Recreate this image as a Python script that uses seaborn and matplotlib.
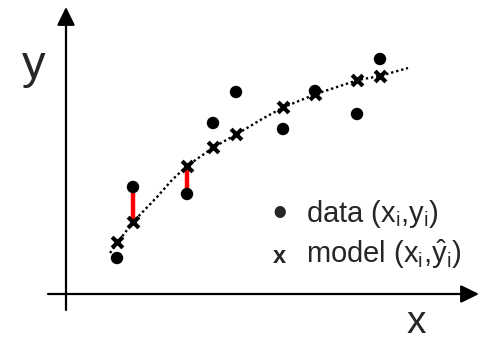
import matplotlib
matplotlib.use("Agg")
import matplotlib.pyplot as plt
import seaborn as sns
import pandas as pd

sns.set_style("white")
plt.rcParams['font.family'] = ['Liberation Sans', 'DejaVu Sans']
plt.rcParams['mathtext.fontset'] = 'custom'
plt.rcParams['mathtext.rm'] = 'Liberation Sans'
plt.rcParams['mathtext.it'] = 'Liberation Sans'
plt.rcParams['mathtext.default'] = 'regular'

# data points (x_i, y_i)
data_x = [5.1, 6.7, 12.1, 14.7, 17.0, 21.7, 24.9, 29.1, 31.4]
data_y = [3.6, 10.7, 10.0, 17.1, 20.2, 16.5, 20.3, 18.0, 23.5]
# model values (x_i, yhat_i)
model_y = [5.2, 7.2, 12.8, 14.7, 16.0, 18.7, 20.0, 21.4, 21.8]
# model curve
curve_x = [4.4, 5.2, 6.7, 9.1, 10.6, 12.1, 14.8, 17.1, 19.6, 21.8, 25.0, 27.1, 29.2, 31.4, 32.8, 34.2]
curve_y = [4.1, 5.2, 7.2, 9.7, 11.4, 12.8, 14.7, 16.0, 17.5, 18.7, 20.0, 20.7, 21.4, 21.8, 22.2, 22.6]
# residuals highlighted in red (indices)
resid_idx = [1, 2]

df = pd.DataFrame({"x": data_x, "y": data_y, "yhat": model_y})
cdf = pd.DataFrame({"x": curve_x, "y": curve_y})

fig = plt.figure(figsize=(4.8, 3.4), dpi=100)
ax = fig.add_axes([0, 0, 1, 1])
ax.set_xlim(-6.6, 41.4)
ax.set_ylim(-4.6, 29.4)
ax.axis('off')

# axes with arrows
arrow = dict(arrowstyle='-|>,head_length=0.55,head_width=0.27', lw=1.6,
             color='black', mutation_scale=20, shrinkA=0, shrinkB=0)
ax.annotate('', xy=(0, 28.7), xytext=(0, -1.6), arrowprops=arrow)
ax.annotate('', xy=(41.3, 0), xytext=(-1.8, 0), arrowprops=arrow)

# model curve
sns.lineplot(data=cdf, x="x", y="y", ax=ax, sort=False, color='black',
             linestyle=(0, (1, 1.2)), linewidth=1.7, zorder=2)

# red residual lines
sel = df.iloc[resid_idx]
ax.vlines(sel["x"], sel["y"], sel["yhat"], color='#ff0000', linewidth=3.2, zorder=3)

# data dots
sns.scatterplot(data=df, x="x", y="y", ax=ax, color='black', s=80,
                edgecolor='none', zorder=4)
# model crosses
sns.scatterplot(data=df, x="x", y="yhat", ax=ax, color='black', marker='x',
                s=60, linewidth=3.0, zorder=5)

# axis labels
fig.text(33.5 / 480, 1 - 78 / 340, 'y', fontsize=34, ha='center', va='baseline')
fig.text(416 / 480, 1 - 333 / 340, 'x', fontsize=28, ha='center', va='baseline')

# legend as text
fig.text(280 / 480, 1 - 215 / 340, '\u2022', fontsize=30, ha='center', va='center')
fig.text(306 / 480, 1 - 222 / 340, 'data (x$_i$,y$_i$)', fontsize=21, ha='left', va='baseline')
fig.text(279 / 480, 1 - 263 / 340, 'x', fontsize=17, fontweight='bold', ha='center', va='baseline')
fig.text(306 / 480, 1 - 263 / 340, r'model (x$_i$,$\hat{y}_i$)', fontsize=21, ha='left', va='baseline')

fig.savefig('out.png', dpi=100)
